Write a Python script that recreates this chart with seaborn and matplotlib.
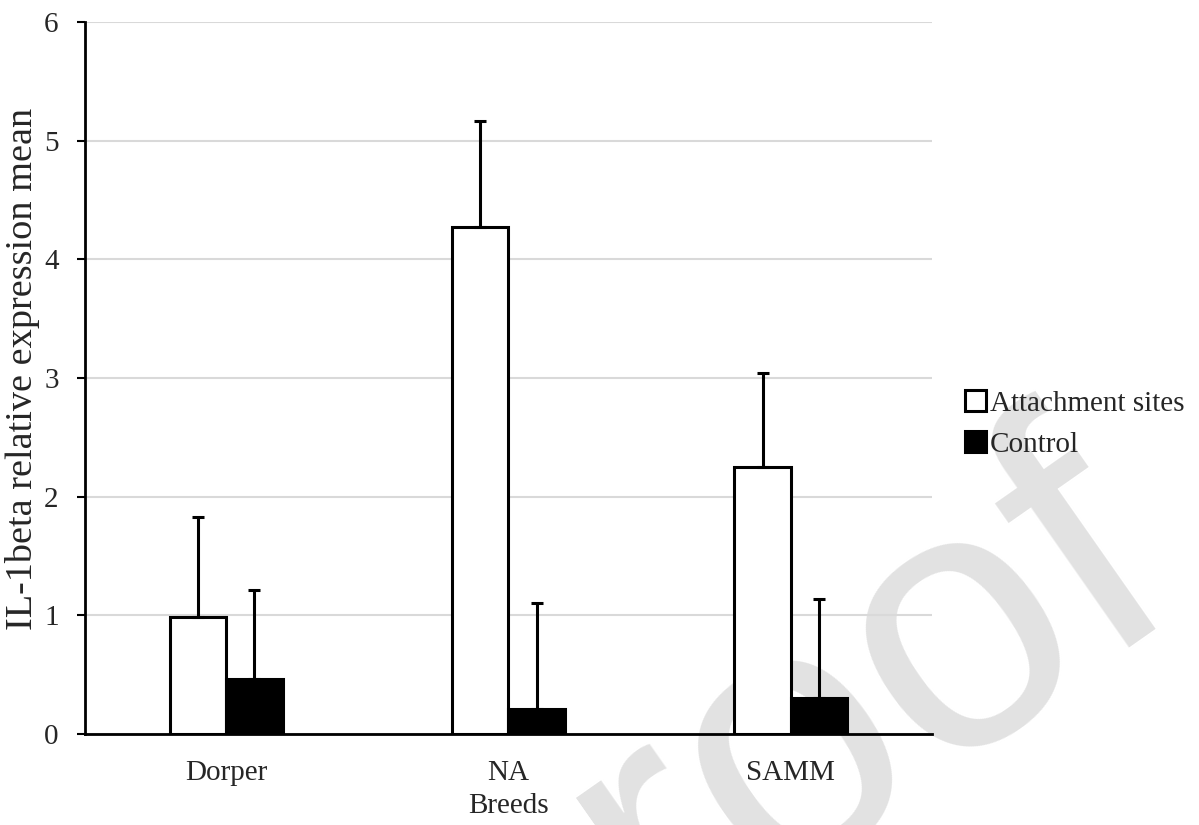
import matplotlib
matplotlib.use('Agg')
import matplotlib.pyplot as plt
import pandas as pd
import seaborn as sns
import numpy as np

# data
breeds = ['Dorper', 'NA', 'SAMM']
groups = ['Attachment sites', 'Control']
attach_mean = [0.99, 4.27, 2.25]
attach_err = [0.84, 0.90, 0.79]
control_mean = [0.46, 0.21, 0.30]
control_err = [0.75, 0.89, 0.84]
y_ticks = [0, 1, 2, 3, 4, 5, 6]

df = pd.DataFrame({
    'Breed': breeds * 2,
    'Group': [groups[0]] * 3 + [groups[1]] * 3,
    'Mean': attach_mean + control_mean,
})

sns.set_style('white')
plt.rcParams['font.family'] = ['Liberation Serif', 'DejaVu Serif']

fig = plt.figure(figsize=(11.99, 8.25), dpi=100)
ax = fig.add_axes([0.0709, 0.1103, 0.7064, 0.8630])
ax.patch.set_alpha(0)

sns.barplot(data=df, x='Breed', y='Mean', hue='Group', hue_order=groups,
            palette=['white', 'black'], edgecolor='black', linewidth=2.2,
            width=0.4, errorbar=None, ax=ax, zorder=3)

# upper-only error bars
for cont, errs in zip(ax.containers, [attach_err, control_err]):
    xs = [p.get_x() + p.get_width() / 2 for p in cont]
    hs = [p.get_height() for p in cont]
    ax.errorbar(xs, hs, yerr=[np.zeros(len(errs)), errs], fmt='none',
                ecolor='black', elinewidth=2.2, capsize=4, capthick=2.2, zorder=4)

ax.set_xlim(-0.5, 2.5)
ax.set_ylim(0, 6)
ax.set_yticks(y_ticks)
ax.yaxis.grid(True, color='#d9d9d9', linewidth=1.5)
ax.set_axisbelow(True)
for s in ['top', 'right']:
    ax.spines[s].set_visible(False)
for s in ['left', 'bottom']:
    ax.spines[s].set_color('black')
    ax.spines[s].set_linewidth(2)
    ax.spines[s].set_zorder(5)

ax.tick_params(axis='y', direction='out', length=6, width=1.5, color='black',
               labelsize=21, pad=13, left=True)
ax.tick_params(axis='x', length=0, labelsize=21, pad=19)
ax.set_xlabel('Breeds', fontsize=21, labelpad=5)
ax.set_ylabel('IL-1beta relative expression mean', fontsize=27.5)
ax.yaxis.set_label_coords(-0.053, 0.5126)

h, l = ax.get_legend_handles_labels()
ax.legend(h, l, loc='upper left', bbox_to_anchor=(0.805, 0.527),
          bbox_transform=fig.transFigure, frameon=False, fontsize=21,
          handlelength=0.7, handleheight=0.7, handletextpad=0.15,
          labelspacing=0.5, borderpad=0, borderaxespad=0)

# watermark (only "roof" shows inside the crop)
fig.text(0.553, -0.16, 'roof', fontsize=265, color='#e2e2e2', rotation=35,
         rotation_mode='anchor', ha='left', va='baseline',
         family='Liberation Sans', zorder=-1)

fig.savefig('out.png', dpi=100)
